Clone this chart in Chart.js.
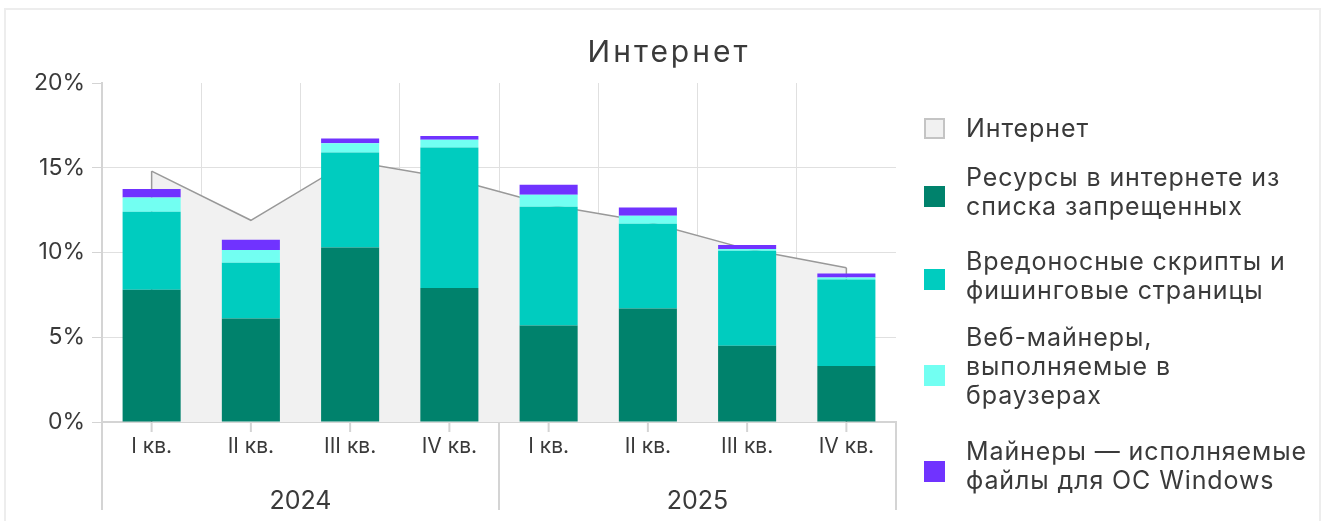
<!DOCTYPE html>
<html><head><meta charset="utf-8">
<script src="https://cdn.jsdelivr.net/npm/chart.js@4.4.1/dist/chart.umd.min.js"></script>
<style>
html,body{margin:0;padding:0;background:#fff;width:1324px;height:521px;overflow:hidden;}
#card{position:absolute;left:4px;top:8px;width:1317px;height:540px;border:2px solid #ededed;box-sizing:border-box;}
#wrap{position:absolute;left:0;top:0;width:1324px;height:521px;}
#legend{position:absolute;left:0;top:0;width:1324px;height:521px;font-family:Inter,"Noto Sans",sans-serif;font-size:25px;letter-spacing:0.9px;color:#3a3a3a;}
.item{position:absolute;left:966px;line-height:29px;white-space:pre;}
.box{position:absolute;left:924px;width:21px;height:21px;box-sizing:border-box;}
</style></head>
<body>
<div id="card"></div>
<div id="wrap"><canvas id="c" width="1324" height="521"></canvas></div>
<div id="legend"></div>
<script>
const chartTitle = 'Интернет';
const quarters = ['I кв.','II кв.','III кв.','IV кв.','I кв.','II кв.','III кв.','IV кв.'];
const years = ['2024','2025'];
const quartersPerYear = 4;
const yTicks = [0, 5, 10, 15, 20];
const internetTotal    = [14.8, 11.9, 15.4, 14.4, 12.8, 11.8, 10.2, 9.1];
const blockedResources = [7.8, 6.1, 10.3, 7.9, 5.7, 6.7, 4.5, 3.3];
const maliciousScripts = [4.6, 3.3, 5.6, 8.3, 7.0, 5.0, 5.6, 5.1];
const webMiners        = [0.85, 0.75, 0.55, 0.45, 0.7, 0.47, 0.1, 0.12];
const windowsMiners    = [0.5, 0.6, 0.28, 0.23, 0.6, 0.49, 0.24, 0.24];
const seriesNames = [
  'Интернет',
  'Ресурсы в интернете из\nсписка запрещенных',
  'Вредоносные скрипты и\nфишинговые страницы',
  'Веб-майнеры,\nвыполняемые в\nбраузерах',
  'Майнеры — исполняемые\nфайлы для ОС Windows'
];
const seriesColors = ['#f1f1f1', '#00826c', '#00ccbf', '#72fff2', '#7033ff'];

const TEXT = '#3a3a3a';
const AXIS = '#d4d4d4';
const GRID = '#e0e0e0';

const titlePlugin = {
  id: 'spacedTitle',
  afterDraw(chart) {
    const ctx = chart.ctx;
    ctx.save();
    ctx.font = '30px Inter';
    ctx.fillStyle = TEXT;
    ctx.letterSpacing = '3px';
    ctx.textAlign = 'center';
    ctx.textBaseline = 'middle';
    ctx.fillText(chartTitle, 669, 53);
    ctx.restore();
  }
};

const areaEdges = {
  id: 'areaEdges',
  afterDatasetDraw(chart, args) {
    if (args.index !== 0) return;
    const pts = args.meta.data;
    const yb = chart.scales.y.getPixelForValue(0);
    const ctx = chart.ctx;
    ctx.save();
    ctx.strokeStyle = '#999';
    ctx.lineWidth = 1.5;
    [pts[0], pts[pts.length - 1]].forEach(p => {
      ctx.beginPath(); ctx.moveTo(p.x, p.y); ctx.lineTo(p.x, yb); ctx.stroke();
    });
    ctx.restore();
  }
};

const groupAxis = {
  id: 'groupAxis',
  afterDraw(chart) {
    const ctx = chart.ctx, x = chart.scales.x;
    const yb = chart.chartArea.bottom;
    const half = (x.getPixelForValue(1) - x.getPixelForValue(0)) / 2;
    ctx.save();
    ctx.strokeStyle = AXIS;
    ctx.lineWidth = 2;
    quarters.forEach((q, i) => {
      const px = x.getPixelForValue(i);
      ctx.beginPath(); ctx.moveTo(px, yb); ctx.lineTo(px, yb + 10); ctx.stroke();
    });
    for (let g = 0; g <= years.length; g++) {
      const idx = g * quartersPerYear;
      const sx = g < years.length ? x.getPixelForValue(idx) - half : x.getPixelForValue(idx - 1) + half;
      ctx.beginPath(); ctx.moveTo(sx, yb); ctx.lineTo(sx, yb + 88); ctx.stroke();
    }
    ctx.font = '25px Inter';
    ctx.fillStyle = TEXT;
    ctx.textAlign = 'center';
    ctx.textBaseline = 'middle';
    years.forEach((yr, g) => {
      const a = x.getPixelForValue(g * quartersPerYear);
      const b = x.getPixelForValue(g * quartersPerYear + quartersPerYear - 1);
      ctx.fillText(yr, (a + b) / 2, yb + 79);
    });
    ctx.restore();
  }
};

const barSets = [blockedResources, maliciousScripts, webMiners, windowsMiners].map((d, i) => ({
  type: 'bar',
  label: seriesNames[i + 1].replace(/\n/g, ' '),
  data: d,
  backgroundColor: seriesColors[i + 1],
  borderWidth: 0,
  stack: 'bars',
  order: 1,
  categoryPercentage: 1,
  barPercentage: 0.585
}));

new Chart(document.getElementById('c'), {
  type: 'bar',
  data: {
    labels: quarters,
    datasets: [{
      type: 'line',
      label: seriesNames[0],
      data: internetTotal,
      borderColor: '#999',
      borderWidth: 1.5,
      backgroundColor: seriesColors[0],
      fill: 'origin',
      pointRadius: 0,
      tension: 0,
      stack: 'area',
      order: 10
    }, ...barSets]
  },
  options: {
    responsive: false,
    animation: false,
    devicePixelRatio: 1,
    layout: { padding: { left: 5, right: 428, top: 83, bottom: 0 } },
    plugins: { legend: { display: false }, title: { display: false }, tooltip: { enabled: false } },
    scales: {
      x: {
        stacked: true,
        offset: true,
        grid: { offset: true, drawTicks: false, color: c => c.type === 'tick' ? GRID : 'rgba(0,0,0,0)' },
        border: { color: AXIS, width: 2 },
        ticks: { font: { family: 'Inter', size: 21 }, color: TEXT, padding: 12, maxRotation: 0, autoSkip: false },
        afterFit: s => { s.height = 99; }
      },
      y: {
        stacked: true,
        min: 0, max: 20,
        afterBuildTicks: s => { s.ticks = yTicks.map(v => ({ value: v })); },
        ticks: { callback: v => v + '%', font: { family: 'Inter', size: 23 }, color: TEXT, padding: 7 },
        grid: { color: c => (c.tick && c.tick.value === 20) ? 'rgba(0,0,0,0)' : GRID, tickColor: AXIS, tickLength: 10, lineWidth: 1 },
        border: { color: AXIS, width: 2 },
        afterFit: s => { s.width = 97; }
      }
    }
  },
  plugins: [titlePlugin, areaEdges, groupAxis]
});

// HTML legend
const legendTextTops = [114, 163, 247, 323, 437];
const legendBoxTops = [118, 186, 269, 365, 461];
const legend = document.getElementById('legend');
seriesNames.forEach((name, i) => {
  const box = document.createElement('div');
  box.className = 'box';
  box.style.top = legendBoxTops[i] + 'px';
  box.style.background = seriesColors[i];
  if (i === 0) box.style.border = '2px solid #c4c4c4';
  legend.appendChild(box);
  const t = document.createElement('div');
  t.className = 'item';
  t.style.top = legendTextTops[i] + 'px';
  t.textContent = name;
  legend.appendChild(t);
});
</script>
</body></html>
